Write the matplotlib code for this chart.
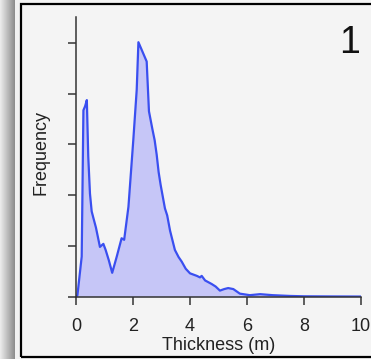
import numpy as np
import matplotlib
matplotlib.use("Agg")
import matplotlib.pyplot as plt
from matplotlib.patches import Rectangle

# Data
thickness = [0.0, 0.05, 0.2, 0.26, 0.32, 0.38, 0.43, 0.49, 0.55, 0.61, 0.70, 0.84,
             0.96, 1.04, 1.15, 1.27, 1.43, 1.60, 1.69, 1.84, 2.01, 2.13, 2.19, 2.48,
             2.56, 2.68, 2.76, 2.83, 2.90, 2.97, 3.12, 3.20, 3.30, 3.47, 3.60, 3.71,
             3.85, 4.00, 4.24, 4.35, 4.41, 4.53, 4.76, 4.90, 5.05, 5.20, 5.34, 5.52,
             5.75, 6.10, 6.46, 6.90, 7.50, 8.00, 9.00, 10.0]
frequency = [0.0, 0.03, 0.79, 3.67, 3.75, 3.87, 2.76, 2.03, 1.68, 1.55, 1.36, 0.98,
             1.04, 0.92, 0.72, 0.47, 0.79, 1.15, 1.12, 1.77, 3.08, 4.07, 5.01, 4.63,
             3.65, 3.30, 3.08, 2.80, 2.45, 2.20, 1.74, 1.60, 1.30, 0.92, 0.78, 0.69,
             0.55, 0.46, 0.41, 0.38, 0.41, 0.32, 0.25, 0.20, 0.12, 0.15, 0.17, 0.15,
             0.06, 0.03, 0.05, 0.03, 0.015, 0.008, 0.005, 0.003]
xticks = [0, 2, 4, 6, 8, 10]
yticks = [0, 1, 2, 3, 4, 5]

plt.rcParams['font.family'] = ['Liberation Sans', 'DejaVu Sans']

W, H = 371, 359
fig = plt.figure(figsize=(W / 100, H / 100), dpi=100)
fig.patch.set_facecolor('#f4f4f4')

# left gradient strip
gax = fig.add_axes([0, 0, 15 / W, 1])
grad = np.linspace(0.93, 0.55, 64).reshape(1, -1)
gax.imshow(grad, aspect='auto', cmap='gray', vmin=0, vmax=1, extent=[0, 1, 0, 1])
gax.set_axis_off()

fig.patches.append(Rectangle((15 / W, 0), 4.5 / W, 1, transform=fig.transFigure,
                             facecolor='#f2f2f2', edgecolor='none', zorder=0))
fig.patches.append(Rectangle((20.5 / W, (H - 356.5) / H), (W + 10 - 20.5) / W,
                             (356.5 - 4) / H, transform=fig.transFigure,
                             facecolor='none', edgecolor='black', lw=1.6, zorder=5))

ax = fig.add_axes([76 / W, (H - 296.7) / H, 285 / W, (296.7 - 17.3) / H])
ax.set_facecolor('none')
ax.fill_between(thickness, frequency, 0, color='#c6c6f7', lw=0)
ax.plot(thickness, frequency, color='#3a4ff0', lw=1.6, solid_joinstyle='round')
ax.set_xlim(0, 10)
ax.set_ylim(0, 5.5)
ax.set_xticks(xticks)
ax.set_xticklabels([str(t) for t in xticks])
ax.set_yticks(yticks)
ax.set_yticklabels([])
for s in ['top', 'right']:
    ax.spines[s].set_visible(False)
for s in ['left', 'bottom']:
    ax.spines[s].set_color('#333333')
    ax.spines[s].set_linewidth(1.1)
ax.tick_params(direction='out', length=5.5, width=1.1, color='#333333',
               labelsize=13, pad=10, labelcolor='#222222')

fig.text(219 / W, (H - 349.5) / H, 'Thickness (m)', fontsize=13, ha='center',
         va='baseline', color='#222222')
fig.text(41 / W, (H - 152) / H, 'Frequency', fontsize=13, ha='center',
         va='center', rotation=90, color='#222222')
fig.text(349.5 / W, (H - 53) / H, '1', fontsize=27, ha='center', va='baseline',
         color='#111111')

fig.savefig('out.png', dpi=100, facecolor=fig.get_facecolor())
